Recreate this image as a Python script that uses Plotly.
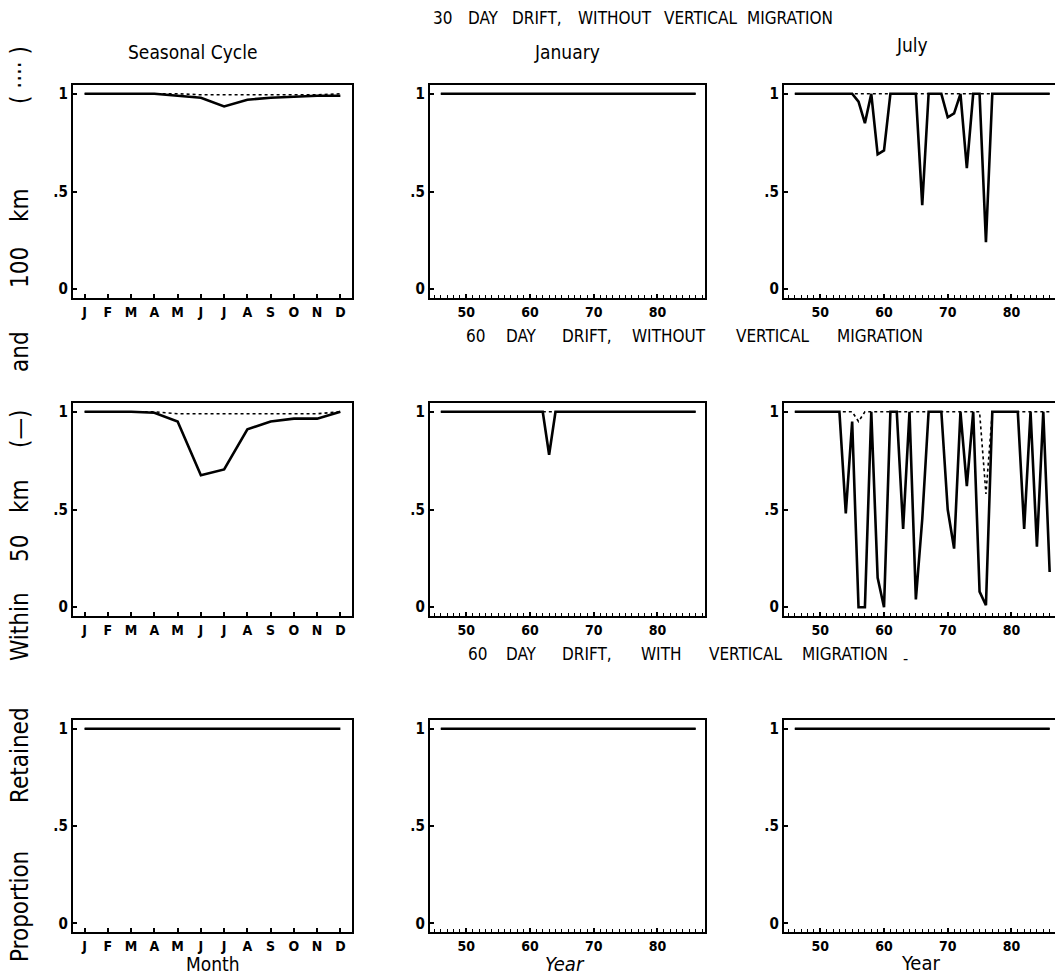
import plotly.graph_objects as go

# ---------------- data ----------------
months = [1, 2, 3, 4, 5, 6, 7, 8, 9, 10, 11, 12]
month_labels = ["J", "F", "M", "A", "M", "J", "J", "A", "S", "O", "N", "D"]
years = [46, 47, 48, 49, 50, 51, 52, 53, 54, 55, 56, 57, 58, 59, 60, 61, 62, 63, 64, 65,
         66, 67, 68, 69, 70, 71, 72, 73, 74, 75, 76, 77, 78, 79, 80, 81, 82, 83, 84, 85, 86]
year_ticks = [50, 60, 70, 80]
y_ticks = [0, 0.5, 1]
y_tick_labels = ["0", ".5", "1"]

# Seasonal cycle (solid = within 50 km, dotted = within 100 km)
season_30_50 = [1.0, 1.0, 1.0, 1.0, 0.99, 0.98, 0.935, 0.97, 0.98, 0.985, 0.99, 0.99]
season_30_100 = [1.0, 1.0, 1.0, 1.0, 1.0, 0.995, 0.995, 0.995, 0.995, 0.995, 0.995, 1.0]
season_60_50 = [1.0, 1.0, 1.0, 0.995, 0.95, 0.675, 0.705, 0.91, 0.95, 0.965, 0.965, 1.0]
season_60_100 = [1.0, 1.0, 1.0, 1.0, 0.99, 0.99, 0.99, 0.99, 0.99, 0.99, 0.99, 1.0]
season_60vm_50 = [1.0, 1.0, 1.0, 1.0, 1.0, 1.0, 1.0, 1.0, 1.0, 1.0, 1.0, 1.0]
season_60vm_100 = [1.0, 1.0, 1.0, 1.0, 1.0, 1.0, 1.0, 1.0, 1.0, 1.0, 1.0, 1.0]

# January, by year
jan_30_50 = [1.0, 1.0, 1.0, 1.0, 1.0, 1.0, 1.0, 1.0, 1.0, 1.0, 1.0, 1.0, 1.0, 1.0, 1.0, 1.0, 1.0, 1.0, 1.0, 1.0,
             1.0, 1.0, 1.0, 1.0, 1.0, 1.0, 1.0, 1.0, 1.0, 1.0, 1.0, 1.0, 1.0, 1.0, 1.0, 1.0, 1.0, 1.0, 1.0, 1.0, 1.0]
jan_30_100 = [1.0, 1.0, 1.0, 1.0, 1.0, 1.0, 1.0, 1.0, 1.0, 1.0, 1.0, 1.0, 1.0, 1.0, 1.0, 1.0, 1.0, 1.0, 1.0, 1.0,
              1.0, 1.0, 1.0, 1.0, 1.0, 1.0, 1.0, 1.0, 1.0, 1.0, 1.0, 1.0, 1.0, 1.0, 1.0, 1.0, 1.0, 1.0, 1.0, 1.0, 1.0]
jan_60_50 = [1.0, 1.0, 1.0, 1.0, 1.0, 1.0, 1.0, 1.0, 1.0, 1.0, 1.0, 1.0, 1.0, 1.0, 1.0, 1.0, 1.0, 0.78, 1.0, 1.0,
             1.0, 1.0, 1.0, 1.0, 1.0, 1.0, 1.0, 1.0, 1.0, 1.0, 1.0, 1.0, 1.0, 1.0, 1.0, 1.0, 1.0, 1.0, 1.0, 1.0, 1.0]
jan_60_100 = [1.0, 1.0, 1.0, 1.0, 1.0, 1.0, 1.0, 1.0, 1.0, 1.0, 1.0, 1.0, 1.0, 1.0, 1.0, 1.0, 1.0, 1.0, 1.0, 1.0,
              1.0, 1.0, 1.0, 1.0, 1.0, 1.0, 1.0, 1.0, 1.0, 1.0, 1.0, 1.0, 1.0, 1.0, 1.0, 1.0, 1.0, 1.0, 1.0, 1.0, 1.0]
jan_60vm_50 = [1.0, 1.0, 1.0, 1.0, 1.0, 1.0, 1.0, 1.0, 1.0, 1.0, 1.0, 1.0, 1.0, 1.0, 1.0, 1.0, 1.0, 1.0, 1.0, 1.0,
               1.0, 1.0, 1.0, 1.0, 1.0, 1.0, 1.0, 1.0, 1.0, 1.0, 1.0, 1.0, 1.0, 1.0, 1.0, 1.0, 1.0, 1.0, 1.0, 1.0, 1.0]
jan_60vm_100 = [1.0, 1.0, 1.0, 1.0, 1.0, 1.0, 1.0, 1.0, 1.0, 1.0, 1.0, 1.0, 1.0, 1.0, 1.0, 1.0, 1.0, 1.0, 1.0, 1.0,
                1.0, 1.0, 1.0, 1.0, 1.0, 1.0, 1.0, 1.0, 1.0, 1.0, 1.0, 1.0, 1.0, 1.0, 1.0, 1.0, 1.0, 1.0, 1.0, 1.0, 1.0]

# July, by year
jul_30_50 = [1.0, 1.0, 1.0, 1.0, 1.0, 1.0, 1.0, 1.0, 1.0, 1.0, 0.96, 0.85, 1.0, 0.69, 0.71, 1.0, 1.0, 1.0, 1.0, 1.0,
             0.43, 1.0, 1.0, 1.0, 0.88, 0.90, 1.0, 0.62, 1.0, 1.0, 0.24, 1.0, 1.0, 1.0, 1.0, 1.0, 1.0, 1.0, 1.0, 1.0, 1.0]
jul_30_100 = [1.0, 1.0, 1.0, 1.0, 1.0, 1.0, 1.0, 1.0, 1.0, 1.0, 1.0, 1.0, 1.0, 1.0, 1.0, 1.0, 1.0, 1.0, 1.0, 1.0,
              1.0, 1.0, 1.0, 1.0, 1.0, 1.0, 1.0, 1.0, 1.0, 1.0, 1.0, 1.0, 1.0, 1.0, 1.0, 1.0, 1.0, 1.0, 1.0, 1.0, 1.0]
jul_60_50 = [1.0, 1.0, 1.0, 1.0, 1.0, 1.0, 1.0, 1.0, 0.48, 0.95, 0.0, 0.0, 1.0, 0.15, 0.0, 1.0, 1.0, 0.40, 1.0, 0.04,
             0.45, 1.0, 1.0, 1.0, 0.50, 0.30, 1.0, 0.62, 1.0, 0.08, 0.01, 1.0, 1.0, 1.0, 1.0, 1.0, 0.40, 1.0, 0.31, 1.0, 0.18]
jul_60_100 = [1.0, 1.0, 1.0, 1.0, 1.0, 1.0, 1.0, 1.0, 1.0, 1.0, 0.95, 1.0, 1.0, 1.0, 1.0, 1.0, 1.0, 1.0, 1.0, 1.0,
              1.0, 1.0, 1.0, 1.0, 1.0, 1.0, 1.0, 1.0, 1.0, 1.0, 0.58, 1.0, 1.0, 1.0, 1.0, 1.0, 1.0, 1.0, 1.0, 1.0, 1.0]
jul_60vm_50 = [1.0, 1.0, 1.0, 1.0, 1.0, 1.0, 1.0, 1.0, 1.0, 1.0, 1.0, 1.0, 1.0, 1.0, 1.0, 1.0, 1.0, 1.0, 1.0, 1.0,
               1.0, 1.0, 1.0, 1.0, 1.0, 1.0, 1.0, 1.0, 1.0, 1.0, 1.0, 1.0, 1.0, 1.0, 1.0, 1.0, 1.0, 1.0, 1.0, 1.0, 1.0]
jul_60vm_100 = [1.0, 1.0, 1.0, 1.0, 1.0, 1.0, 1.0, 1.0, 1.0, 1.0, 1.0, 1.0, 1.0, 1.0, 1.0, 1.0, 1.0, 1.0, 1.0, 1.0,
                1.0, 1.0, 1.0, 1.0, 1.0, 1.0, 1.0, 1.0, 1.0, 1.0, 1.0, 1.0, 1.0, 1.0, 1.0, 1.0, 1.0, 1.0, 1.0, 1.0, 1.0]

row_titles = [
    ["30", "DAY", "DRIFT,", "WITHOUT", "VERTICAL", "MIGRATION"],
    ["60", "DAY", "DRIFT,", "WITHOUT", "VERTICAL", "MIGRATION"],
    ["60", "DAY", "DRIFT,", "WITH", "VERTICAL", "MIGRATION"],
]
col_titles = ["Seasonal Cycle", "January", "July"]
ytitle_words = ["Proportion", "Retained", "Within", "50", "km", "(\u2014)", "and", "100", "km",
                "( \u00b7\u00b7\u00b7\u00b7 )"]

# ---------------- layout geometry (pixels) ----------------
W, H = 1055, 975
col_px = [(73, 352), (430, 705), (784, 1055)]
row_px = [(85, 298), (403, 616), (720, 932)]
x_ranges = [[0.5, 12.5], [44.3, 87.47], [44.3, 86.84]]
y_range = [-0.045, 1.045]

def px_x(p):
    return p / W

def px_y(p):
    return 1 - p / H

panels = [
    [(season_30_50, season_30_100), (jan_30_50, jan_30_100), (jul_30_50, jul_30_100)],
    [(season_60_50, season_60_100), (jan_60_50, jan_60_100), (jul_60_50, jul_60_100)],
    [(season_60vm_50, season_60vm_100), (jan_60vm_50, jan_60vm_100), (jul_60vm_50, jul_60vm_100)],
]

FONT_NARROW = "Liberation Sans Narrow, DejaVu Sans Condensed, Liberation Sans, Arial, sans-serif"

fig = go.Figure()
layout = {}
idx = 0
for r in range(3):
    for c in range(3):
        idx += 1
        sfx = "" if idx == 1 else str(idx)
        xs = months if c == 0 else years
        solid, dotted = panels[r][c]
        fig.add_trace(go.Scatter(x=xs, y=dotted, mode="lines",
                                 line=dict(color="black", width=1.6, dash="dot"),
                                 xaxis="x" + sfx, yaxis="y" + sfx, showlegend=False))
        fig.add_trace(go.Scatter(x=xs, y=solid, mode="lines",
                                 line=dict(color="black", width=2.6),
                                 xaxis="x" + sfx, yaxis="y" + sfx, showlegend=False))
        xa = dict(domain=[px_x(col_px[c][0]), px_x(col_px[c][1])], range=x_ranges[c],
                  anchor="y" + sfx, showline=True, linecolor="black", linewidth=2.4,
                  mirror=True, showgrid=False, zeroline=False,
                  ticks="inside", ticklen=4, tickwidth=1.5, tickcolor="black",
                  tickfont=dict(family=FONT_NARROW, size=14, color="black", weight="bold"))
        if c == 0:
            xa.update(tickmode="array", tickvals=months, ticktext=month_labels)
        else:
            xa.update(tickmode="array", tickvals=year_ticks,
                      minor=dict(dtick=1, tick0=44, ticks="inside", ticklen=3,
                                 tickwidth=1.2, tickcolor="black", showgrid=False))
        ya = dict(domain=[px_y(row_px[r][1]), px_y(row_px[r][0])], range=y_range,
                  anchor="x" + sfx, showline=True, linecolor="black", linewidth=2.4,
                  mirror=(c != 2), showgrid=False, zeroline=False,
                  ticks="inside", ticklen=4, tickwidth=1.5, tickcolor="black",
                  tickmode="array", tickvals=y_ticks, ticktext=y_tick_labels,
                  tickfont=dict(family=FONT_NARROW, size=15, color="black", weight="bold"))
        layout["xaxis" + sfx] = xa
        layout["yaxis" + sfx] = ya

annotations = []

def add_text(text, xp, yp, size, angle=0):
    annotations.append(dict(text=text, x=px_x(xp), y=px_y(yp), xref="paper", yref="paper",
                            showarrow=False, xanchor="center", yanchor="middle", textangle=angle,
                            font=dict(family=FONT_NARROW, size=size, color="black")))

# Row titles, one annotation per word
row_title_y = [18, 336, 654]
row_title_x = [
    [442, 483, 537, 615, 700, 790],
    [475, 521, 587, 669, 772, 880],
    [477, 521, 587, 661, 745, 845],
]
for r in range(3):
    for w, xp in zip(row_titles[r], row_title_x[r]):
        add_text(w, xp, row_title_y[r], 17)
add_text("-", 905, 658, 16)

# Column titles
for t, xp, yp in zip(col_titles, [192, 567, 912], [52, 52, 45]):
    add_text(t, xp, yp, 19)

# X-axis titles
add_text("Month", 213, 964, 19)
add_text("<i>Year</i>", 565, 964, 20)
add_text("Year", 920, 963, 20)

# Y-axis title words (rotated)
ytitle_y = [907, 755, 627, 549, 496, 429, 352, 268, 205, 75]
for w, yp in zip(ytitle_words, ytitle_y):
    add_text(w, 20, yp, 24, angle=-90)

fig.update_layout(**layout)
fig.update_layout(width=W, height=H, margin=dict(l=0, r=0, t=0, b=0),
                  paper_bgcolor="white", plot_bgcolor="white",
                  annotations=annotations, showlegend=False)

fig.write_html("out.html", config={"displayModeBar": False},
               post_script="document.body.style.margin='0px';document.documentElement.style.overflow='hidden';")
